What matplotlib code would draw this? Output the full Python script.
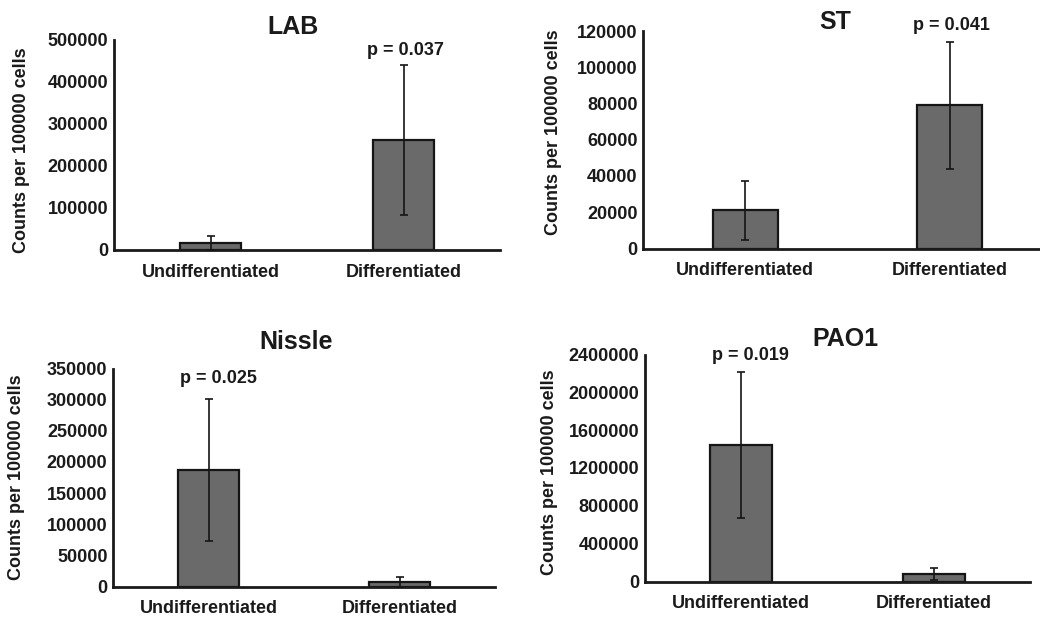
import matplotlib
matplotlib.use("Agg")
import matplotlib.pyplot as plt

plt.rcParams['font.family'] = ['Liberation Sans', 'DejaVu Sans']
plt.rcParams['font.weight'] = 'bold'

categories = ["Undifferentiated", "Differentiated"]

lab_means = [16000, 262000]
lab_errs = [17000, 178000]
st_means = [21000, 79000]
st_errs = [16300, 35000]
nissle_means = [187000, 7000]
nissle_errs = [113500, 9000]
pao1_means = [1440000, 80000]
pao1_errs = [770000, 68000]

lab_ticks = [0, 100000, 200000, 300000, 400000, 500000]
st_ticks = [0, 20000, 40000, 60000, 80000, 100000, 120000]
nissle_ticks = [0, 50000, 100000, 150000, 200000, 250000, 300000, 350000]
pao1_ticks = [0, 400000, 800000, 1200000, 1600000, 2000000, 2400000]

titles = ["LAB", "ST", "Nissle", "PAO1"]
p_texts = ["p = 0.037", "p = 0.041", "p = 0.025", "p = 0.019"]
ylabel = "Counts per 100000 cells"

W, H = 1040, 619
fig = plt.figure(figsize=(W / 100, H / 100), dpi=100)
fig.patch.set_facecolor("white")

TXT = "#1a1a1a"
BAR = "#6a6a6a"


def make_axes(left, right, top, bottom):
    return fig.add_axes([left / W, 1 - bottom / H, (right - left) / W, (bottom - top) / H])


panels = [
    dict(box=(114, 500, 40, 250), means=lab_means, errs=lab_errs, ticks=lab_ticks,
         title_xy=(293, 27), p_idx=1, p_dx=0.01, p_y=476000, ylab_xy=(22, 150)),
    dict(box=(643, 1052, 31, 248.5), means=st_means, errs=st_errs, ticks=st_ticks,
         title_xy=(835, 22), p_idx=1, p_dx=0.01, p_y=123000, ylab_xy=(553, 132)),
    dict(box=(113, 495, 368.5, 586.5), means=nissle_means, errs=nissle_errs, ticks=nissle_ticks,
         title_xy=(296, 342), p_idx=0, p_dx=0.05, p_y=334500, ylab_xy=(17, 477)),
    dict(box=(645, 1030, 354.5, 581.5), means=pao1_means, errs=pao1_errs, ticks=pao1_ticks,
         title_xy=(845, 339), p_idx=0, p_dx=0.05, p_y=2392000, ylab_xy=(549, 472)),
]

for i, pn in enumerate(panels):
    ax = make_axes(*pn["box"])
    x = list(range(len(categories)))
    ax.bar(x, pn["means"], width=0.32, color=BAR, edgecolor="#151515", linewidth=1.6, zorder=2)
    ax.errorbar(x, pn["means"], yerr=pn["errs"], fmt="none", ecolor="#151515",
                elinewidth=1.2, capsize=3, capthick=1.2, zorder=3)
    ax.set_xlim(-0.5, 1.5)
    ax.set_ylim(pn["ticks"][0], pn["ticks"][-1])
    ax.set_yticks(pn["ticks"])
    ax.set_yticklabels([str(t) for t in pn["ticks"]])
    ax.set_xticks(x)
    ax.set_xticklabels(categories)
    ax.tick_params(axis="both", length=0, labelsize=13, colors=TXT)
    ax.tick_params(axis="y", pad=4)
    ax.tick_params(axis="x", pad=10)
    for lbl in ax.get_xticklabels() + ax.get_yticklabels():
        lbl.set_fontweight("bold")
    for s in ["top", "right"]:
        ax.spines[s].set_visible(False)
    for s in ["left", "bottom"]:
        ax.spines[s].set_linewidth(2.0)
        ax.spines[s].set_color("#1a1a1a")
    ax.patch.set_alpha(0)
    ax.text(pn["p_idx"] + pn["p_dx"], pn["p_y"], p_texts[i], ha="center", va="center",
            fontsize=13, fontweight="bold", color=TXT)
    tx, ty = pn["title_xy"]
    fig.text(tx / W, 1 - ty / H, titles[i], ha="center", va="center",
             fontsize=18, fontweight="bold", color=TXT)
    lx, ly = pn["ylab_xy"]
    fig.text(lx / W, 1 - ly / H, ylabel, ha="center", va="center", rotation=90,
             fontsize=13, fontweight="bold", color=TXT)

fig.savefig("out.png", dpi=100)
